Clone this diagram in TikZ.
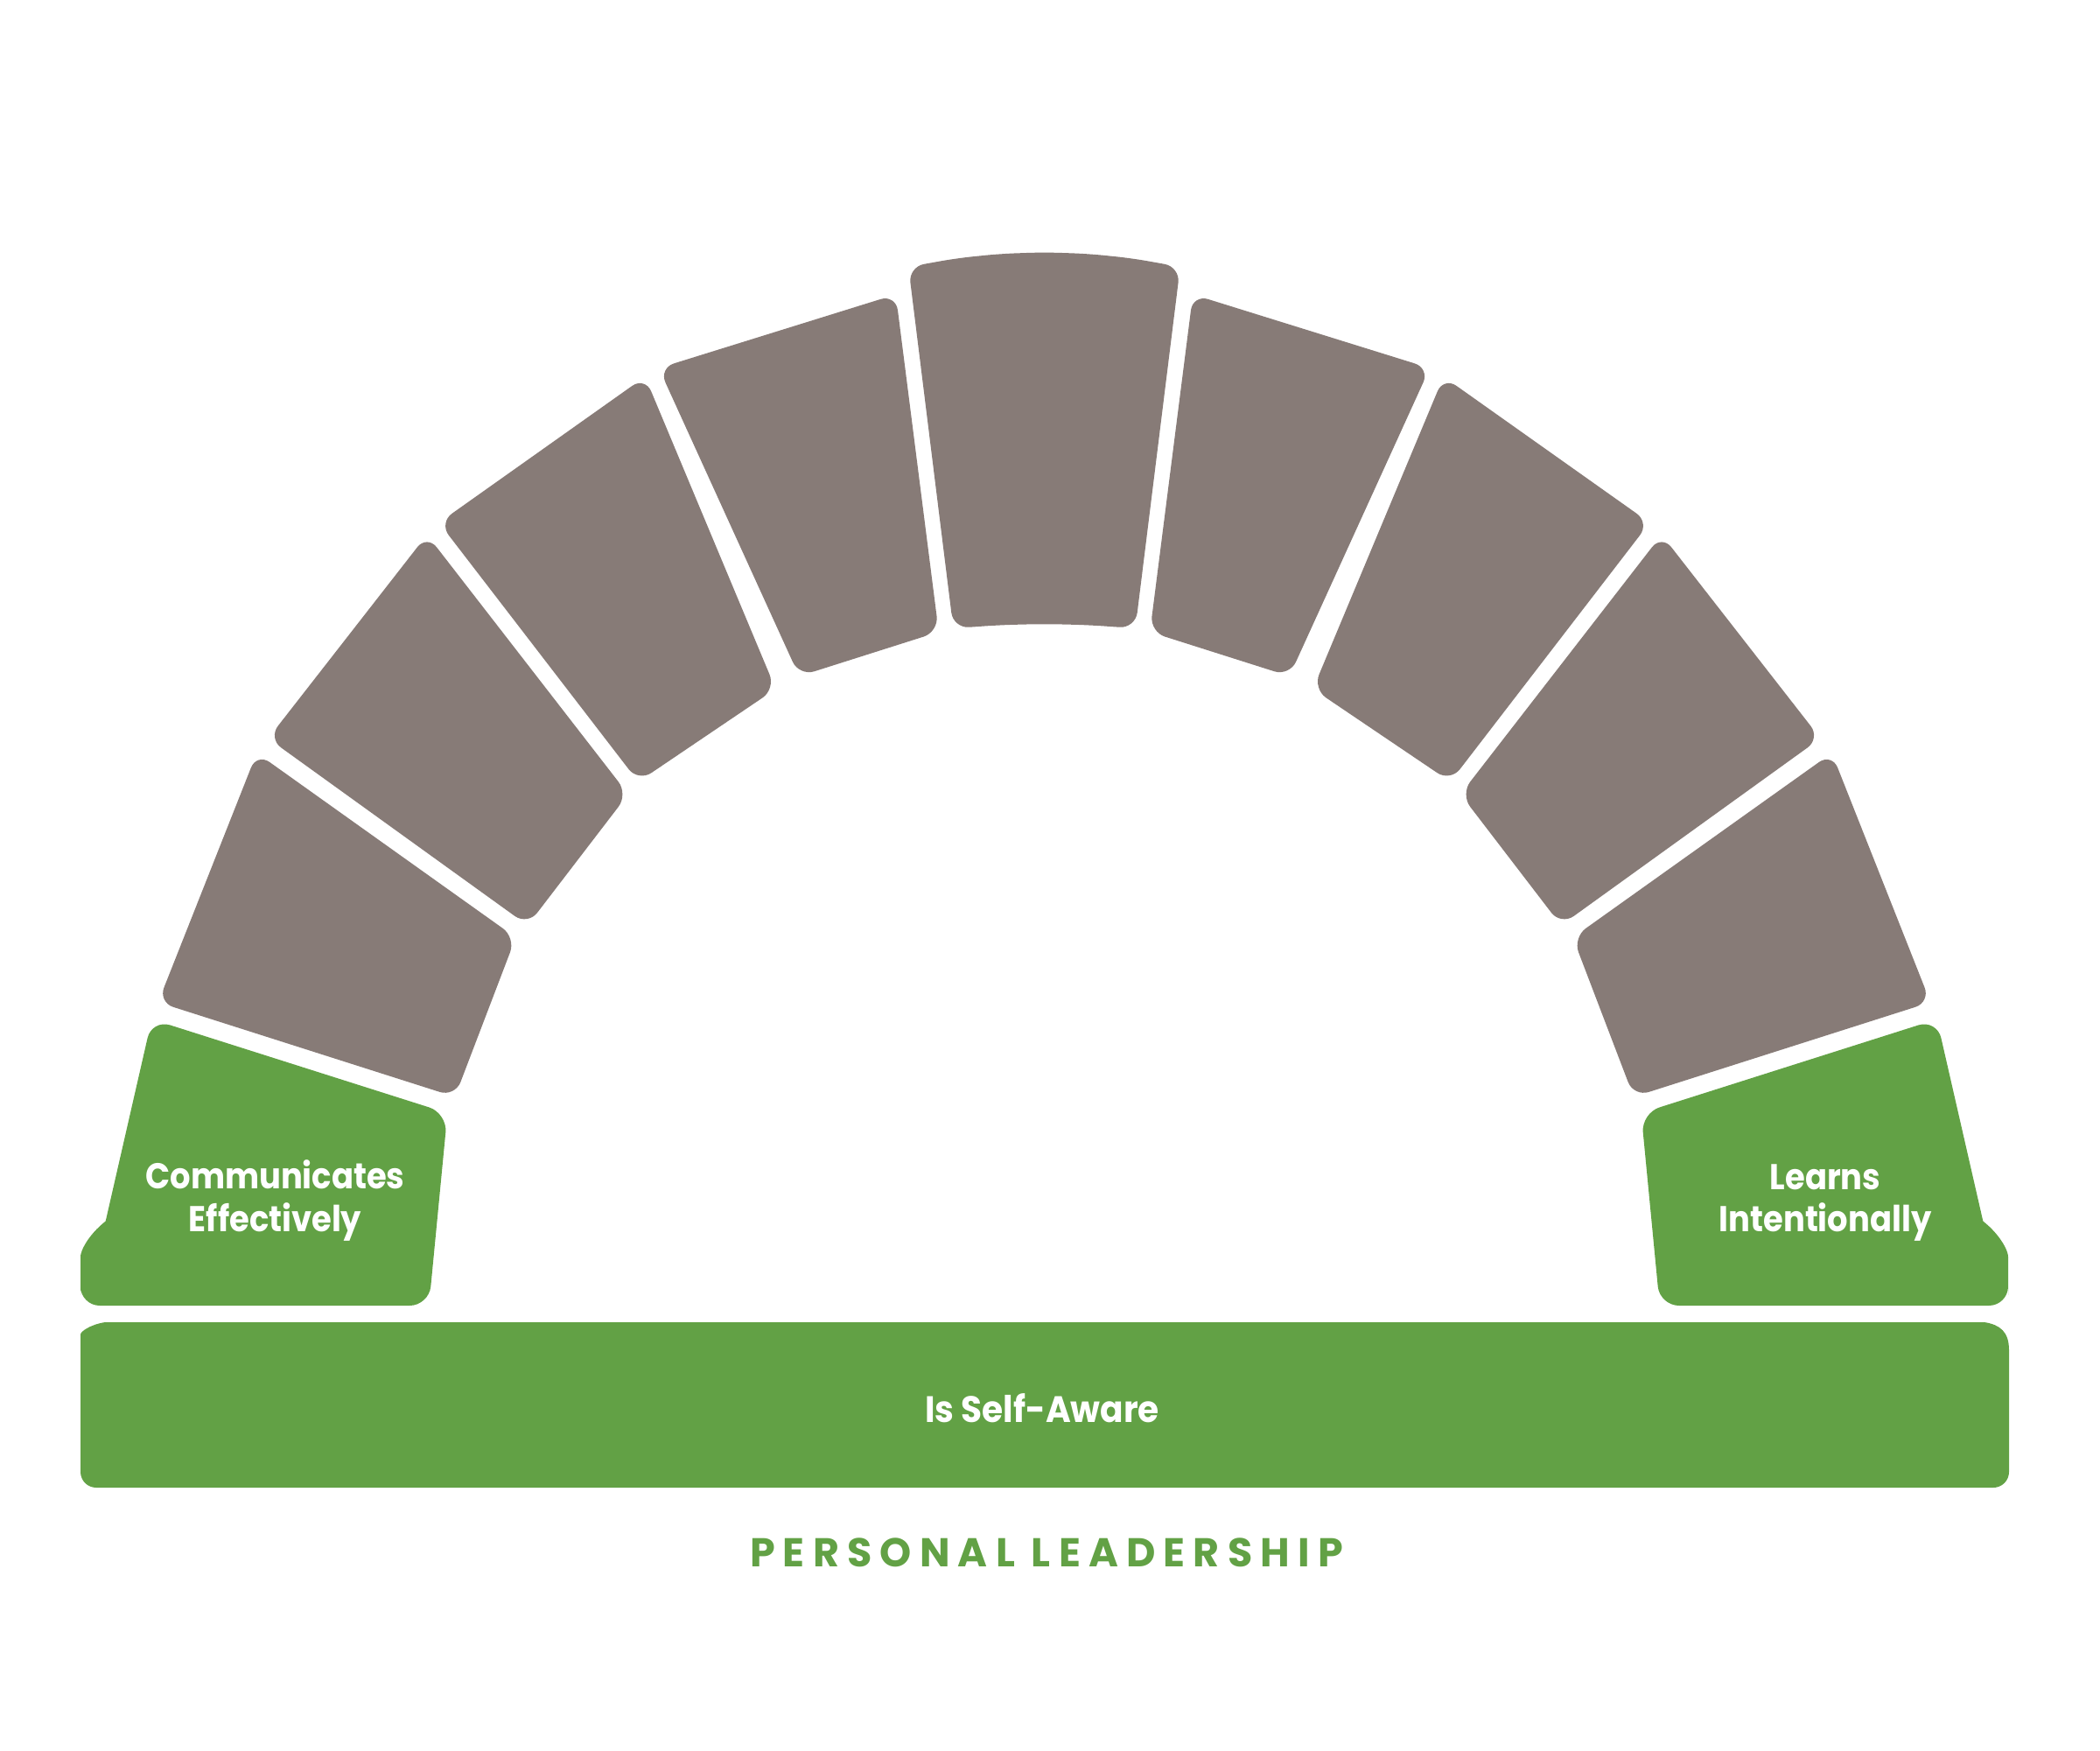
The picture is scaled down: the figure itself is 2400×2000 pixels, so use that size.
\documentclass[tikz,border=0pt]{standalone}
\usepackage{fontspec}
\setmainfont{Poppins}
\definecolor{stonegray}{HTML}{877B77}
\definecolor{leafgreen}{HTML}{62A145}
\newcommand\archhalf{%
  \fill[stonegray,rounded corners=18] (293.5,860.5) -- (589.4,1071.4) -- (519.9,1253.4) -- (180.8,1145.3) -- cycle;
  \fill[stonegray,rounded corners=18] (488.0,611.1) -- (717.8,907.6) -- (603.0,1057.4) -- (306.6,843.8) -- cycle;
  \fill[stonegray,rounded corners=18] (737.2,430.5) -- (886.4,787.3) -- (729.5,893.3) -- (501.8,597.3) -- cycle;
  \fill[stonegray,rounded corners=18] (1023.7,336.5) -- (1072.8,722.1) -- (913.4,772.7) -- (753.0,420.7) -- cycle;
  \fill[leafgreen] (120.7,1395.5) [rounded corners=22] -- (173.5,1164.8) -- (511.4,1272.1) -- (490.2,1492) -- (92,1492) -- (92,1458) [sharp corners] .. controls (92,1430) and (100,1412) .. (120.7,1395.5) -- cycle;
}
\tikzset{
  whitelabel/.style={text=white,font=\fontsize{41}{48}\selectfont\bfseries\addfontfeatures{FakeStretch=0.9},anchor=base,inner sep=0pt},
}
\begin{document}
\begin{tikzpicture}[x=1pt,y=-1pt]
\useasboundingbox (0,0) rectangle (2400,2000);
\archhalf
\begin{scope}[shift={(2387,0)},xscale=-1]
\archhalf
\end{scope}
% keystone
\fill[stonegray,rounded corners=18] (1038.2,305) -- (1093.5,295.1) -- (1143.5,290) -- (1193.5,288.3) -- (1243.5,290) -- (1293.5,295.1) -- (1348.8,305) -- (1297.5,718) -- (1243.5,714.2) -- (1193.5,713) -- (1143.5,714.2) -- (1089.5,718) -- cycle;
% base bar
\fill[leafgreen] (92,1543) .. controls (92,1522) and (102,1514) .. (120,1511) -- (2268,1511) .. controls (2286,1514) and (2296,1522) .. (2296,1543) [rounded corners=18] -- (2296,1700) -- (92,1700) -- cycle;
\node[whitelabel] (comm1) at (314.5,1358.9) {Communicates};
\node[whitelabel] (comm2) at (314.5,1407.5) {Effectively};
\node[whitelabel] (learn1) at (2086,1359) {Learns};
\node[whitelabel] (learn2) at (2086,1407) {Intentionally};
\node[whitelabel,font=\fontsize{42}{48}\selectfont\bfseries\addfontfeatures{FakeStretch=0.93}] (self) at (1191,1625) {Is Self-Aware};
\node[text=leafgreen,anchor=base,inner sep=0pt,font=\fontsize{46}{50}\selectfont\bfseries\addfontfeatures{LetterSpace=20}] (title) at (1196,1790) {PERSONAL LEADERSHIP};
\end{tikzpicture}
\end{document}
